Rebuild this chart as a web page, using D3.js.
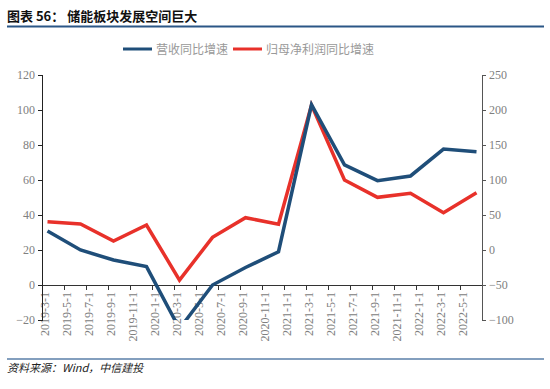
<!DOCTYPE html>
<html lang="zh">
<head>
<meta charset="utf-8">
<title>储能板块发展空间巨大</title>
<script src="https://d3js.org/d3.v7.min.js"></script>
<style>
  body { margin: 0; background: #fff; }
  .axis path, .axis line { fill: none; shape-rendering: crispEdges; }
  .axis text { font-family: 'Liberation Serif', 'DejaVu Serif', serif; }
</style>
</head>
<body>
<script>
// quarterly observations, months counted from 2019-3
const months = [0, 3, 6, 9, 12, 15, 18, 21, 24, 27, 30, 33, 36, 39]
const revenue = [30.9, 20, 14.3, 10.5, -25, 0, 10, 19, 103, 68.6, 59.6, 62.3, 77.7, 76.2]
const profit = [40.4, 37.1, 12.9, 35.7, -43, 18.1, 46.2, 36.7, 207, 100, 75.2, 81, 53.3, 81.9]
const tickLabels = ["2019-3-1", "2019-5-1", "2019-7-1", "2019-9-1", "2019-11-1",
  "2020-1-1", "2020-3-1", "2020-5-1", "2020-7-1", "2020-9-1", "2020-11-1",
  "2021-1-1", "2021-3-1", "2021-5-1", "2021-7-1", "2021-9-1", "2021-11-1",
  "2022-1-1", "2022-3-1", "2022-5-1"]
const leftTicks = [-20, 0, 20, 40, 60, 80, 100, 120]
const rightTicks = [-100, -50, 0, 50, 100, 150, 200, 250]
const seriesNames = ["营收同比增速", "归母净利润同比增速"]

const w = 550, h = 389
const plotL = 42, plotR = 482, plotT = 75, plotB = 320
const blue = "#1f4e79", red = "#e8312a"

const x = d3.scaleLinear().domain([0, 40]).range([plotL, plotR])
const yL = d3.scaleLinear().domain([-20, 120]).range([plotB, plotT])
const yR = d3.scaleLinear().domain([-100, 250]).range([plotB, plotT])

const svg = d3.select("body").append("svg")
  .attr("width", w).attr("height", h)

// title + rules
svg.append("text")
  .attr("x", 7).attr("y", 21)
  .attr("font-family", "Noto Sans CJK SC, sans-serif")
  .attr("font-weight", "bold").attr("font-size", 13).attr("fill", "#111")
  .attr("xml:space", "preserve")
  .text("图表 56： 储能板块发展空间巨大")
svg.append("line").attr("x1", 7).attr("x2", 544).attr("y1", 26.5).attr("y2", 26.5)
  .attr("stroke", "#2b5686").attr("stroke-width", 2)
svg.append("line").attr("x1", 7).attr("x2", 544).attr("y1", 359).attr("y2", 359)
  .attr("stroke", "#5a7fa8").attr("stroke-width", 1.5)
svg.append("text")
  .attr("x", 7).attr("y", 372)
  .attr("font-family", "Noto Sans CJK SC, sans-serif")
  .attr("font-style", "italic").attr("font-size", 11).attr("fill", "#222")
  .text("资料来源：Wind，中信建投")

// legend
const legend = svg.append("g").attr("font-family", "Noto Sans CJK SC, sans-serif")
  .attr("font-size", 12).attr("fill", "#999")
const legendItems = [{ x: 123, color: blue, name: seriesNames[0] }, { x: 233, color: red, name: seriesNames[1] }]
legendItems.forEach(d => {
  legend.append("line").attr("x1", d.x).attr("x2", d.x + 29).attr("y1", 49).attr("y2", 49)
    .attr("stroke", d.color).attr("stroke-width", 3)
  legend.append("text").attr("x", d.x + 33).attr("y", 53.5).text(d.name)
})

// axes
const xAxis = d3.axisBottom(x)
  .tickValues(d3.range(0, 40, 2))
  .tickFormat((d, i) => tickLabels[i])
  .tickSize(5).tickSizeOuter(0)
const gx = svg.append("g").attr("class", "axis")
  .attr("transform", "translate(0," + yL(0) + ")")
  .call(xAxis)
gx.attr("font-family", null)
gx.select(".domain").attr("stroke", "#333").attr("stroke-width", 1.3)
gx.selectAll("line").attr("stroke", "#333")
gx.selectAll("text")
  .attr("font-size", 12).attr("fill", "#808080")
  .attr("transform", "rotate(-90)")
  .attr("text-anchor", "end")
  .attr("x", -7).attr("y", 2).attr("dy", "0.35em")

const gl = svg.append("g").attr("class", "axis")
  .attr("transform", "translate(" + plotL + ",0)")
  .call(d3.axisLeft(yL).tickValues(leftTicks).tickSize(4).tickSizeOuter(4).tickPadding(3))
gl.attr("font-family", null)
gl.select(".domain").attr("stroke", "#222").attr("stroke-width", 1.3)
gl.selectAll("line").attr("stroke", "#222")
gl.selectAll("text").attr("font-size", 12).attr("fill", "#808080")

const gr = svg.append("g").attr("class", "axis")
  .attr("transform", "translate(" + plotR + ",0)")
  .call(d3.axisRight(yR).tickValues(rightTicks).tickSize(4).tickSizeOuter(4).tickPadding(3))
gr.attr("font-family", null)
gr.select(".domain").attr("stroke", "#555").attr("stroke-width", 1.3)
gr.selectAll("line").attr("stroke", "#555")
gr.selectAll("text").attr("font-size", 12).attr("fill", "#808080")

// lines, clipped to the plot area
svg.append("clipPath").attr("id", "plot")
  .append("rect").attr("x", plotL).attr("y", plotT).attr("width", plotR - plotL).attr("height", plotB - plotT)

const revLine = d3.line().x((d, i) => x(months[i] + 0.5)).y(d => yL(d))
const proLine = d3.line().x((d, i) => x(months[i] + 0.5)).y(d => yR(d))

const plot = svg.append("g").attr("clip-path", "url(#plot)")
plot.append("path").datum(profit).attr("d", proLine)
  .attr("fill", "none").attr("stroke", red).attr("stroke-width", 3.5)
plot.append("path").datum(revenue).attr("d", revLine)
  .attr("fill", "none").attr("stroke", blue).attr("stroke-width", 3.5)
</script>
</body>
</html>
